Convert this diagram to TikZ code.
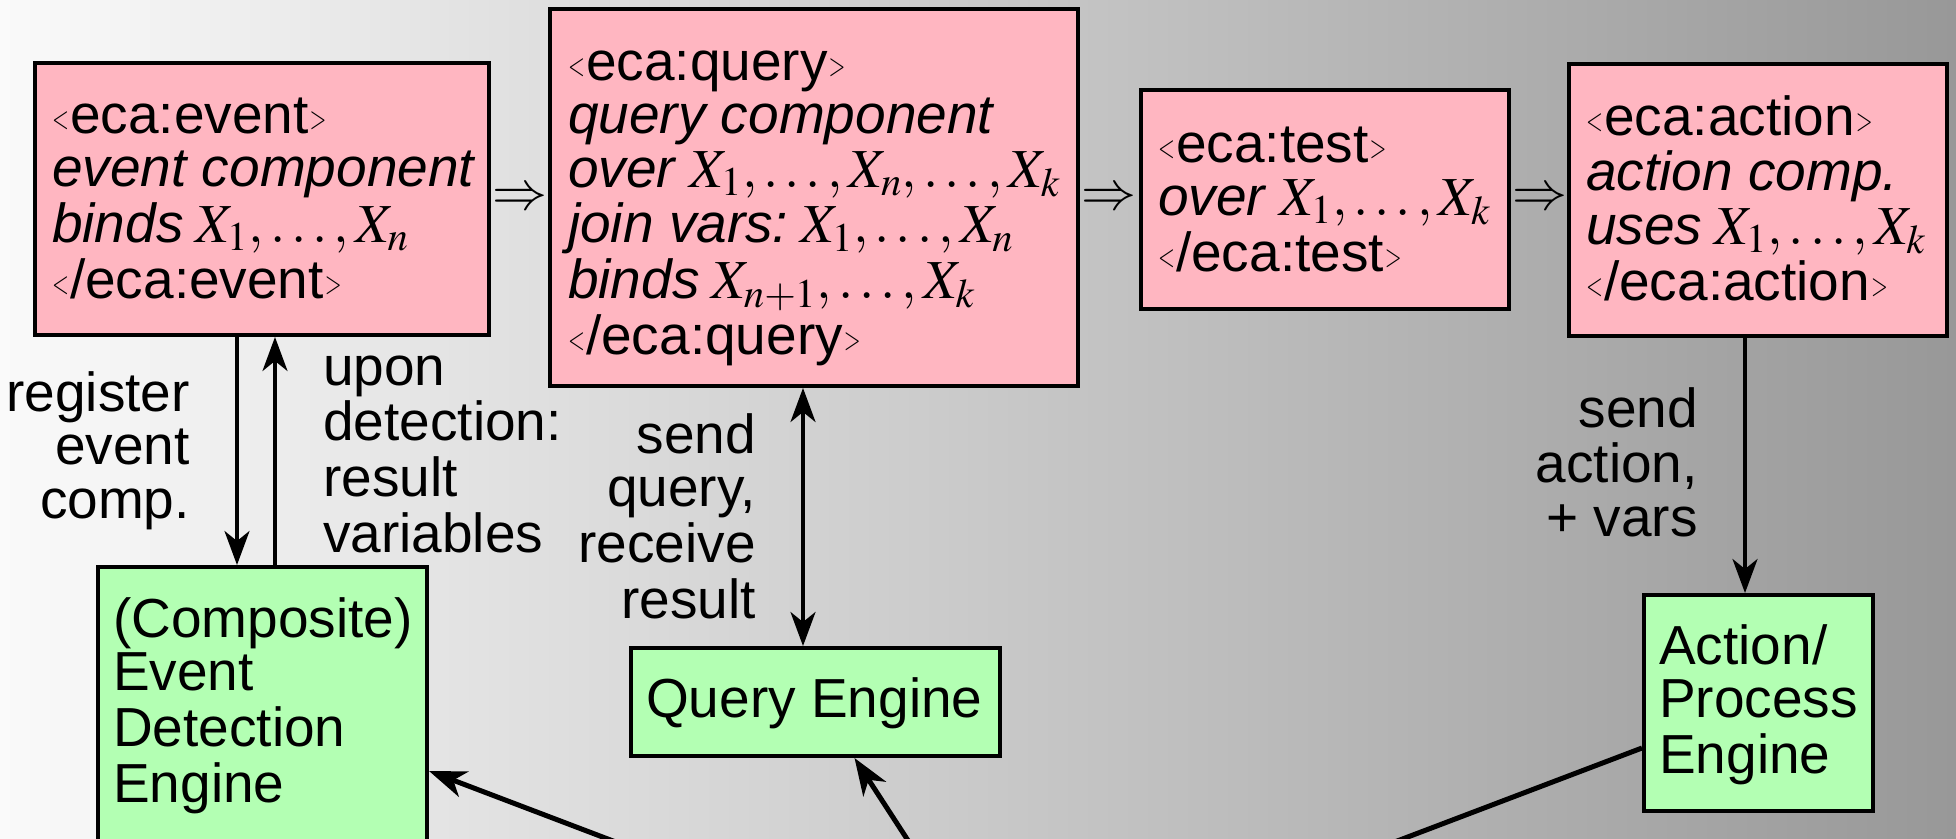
\documentclass[tikz,border=0pt]{standalone}
\usepackage{mathptmx}
\usepackage[no-math]{fontspec}
\usepackage{graphicx}
\setmainfont{Liberation Sans}
\usetikzlibrary{arrows.meta}
\definecolor{boxpink}{RGB}{255,182,193}
\definecolor{boxgreen}{RGB}{179,255,179}
\definecolor{bgleft}{RGB}{250,250,250}
\definecolor{bgright}{RGB}{152,152,152}
\newcommand\lftlines[1]{\begin{tabular}[t]{@{}l@{}}#1\end{tabular}}
\newcommand\rgtlines[1]{\begin{tabular}[t]{@{}r@{}}#1\end{tabular}}
\newcommand\ltg{\raisebox{5pt}{\scalebox{0.7}[1]{\fontsize{31}{31}\selectfont$<$}}\kern1pt}
\newcommand\gtg{\kern1pt\raisebox{5pt}{\scalebox{0.7}[1]{\fontsize{31}{31}\selectfont$>$}}}
\newcommand\vsp{\hspace{12pt}}
\begin{document}
\begin{tikzpicture}[x=1pt,y=-1pt,
  txt/.style={font=\fontsize{55}{53.5}\selectfont, inner sep=0pt},
  pbox/.style={draw, line width=4pt, fill=boxpink, inner sep=0pt},
  gbox/.style={draw, line width=4pt, fill=boxgreen, inner sep=0pt},
  arr/.style={line width=3.5pt, -{Stealth[length=34pt,width=25pt,inset=10pt]}},
  darr/.style={line width=3.5pt, {Stealth[length=34pt,width=25pt,inset=10pt]}-{Stealth[length=34pt,width=25pt,inset=10pt]}},
  barr/.style={line width=5pt, -{Stealth[length=37pt,width=27pt,inset=11pt]}},
  bline/.style={line width=5pt}]
\useasboundingbox (0,0) rectangle (1956,838);
\clip (0,0) rectangle (1956,838);
\shade[left color=bgleft,right color=bgright] (0,0) rectangle (1956,838);

% rule component boxes
\node[pbox, minimum width=454pt, minimum height=272pt] (ev) at (262,199) {};
\node[pbox, minimum width=528pt, minimum height=377pt] (qu) at (814,197.5) {};
\node[pbox, minimum width=368pt, minimum height=219pt] (te) at (1325,199.5) {};
\node[pbox, minimum width=378pt, minimum height=272pt] (ac) at (1758,200) {};

% engines
\node[gbox, minimum width=329pt, minimum height=300pt] (ede) at (262.5,717) {};
\node[gbox, minimum width=369pt, minimum height=108pt] (qe) at (815.5,702) {};
\node[gbox, minimum width=229pt, minimum height=216pt] (ape) at (1758.5,703) {};

% box texts
\node[txt, anchor=base west] (evt) at (52,133) {\lftlines{\ltg eca:event\gtg\\ \textit{event component}\\ \textit{binds}\vsp$X_1,\ldots,X_n$\\ \ltg/eca:event\gtg}};
\node[txt, anchor=base west] (qut) at (568,80) {\lftlines{\ltg eca:query\gtg\\ \textit{query component}\\ \textit{over}\vsp$X_1,\ldots,X_n,\ldots,X_k$\\ \textit{join vars:}\vsp$X_1,\ldots,X_n$\\ \textit{binds}\vsp$X_{n+1},\ldots,X_k$\\ \ltg/eca:query\gtg}};
\node[txt, anchor=base west] (tet) at (1158,162) {\lftlines{\ltg eca:test\gtg\\ \textit{over}\vsp$X_1,\ldots,X_k$\\ \ltg/eca:test\gtg}};
\node[txt, anchor=base west] (act) at (1586,135) {\lftlines{\ltg eca:action\gtg\\ \textit{action comp.}\\ \textit{uses}\vsp$X_1,\ldots,X_k$\\ \ltg/eca:action\gtg}};
\node[txt, anchor=base west] (edet) at (113,637) {\lftlines{(Composite)\\ Event\\ Detection\\ Engine}};
\node[txt, anchor=base west] (qet) at (646,717) {Query Engine};
\node[txt, anchor=base west] (apet) at (1659,664) {\lftlines{Action/\\ Process\\ Engine}};

% implication signs
\node[txt] (r1) at (520,199) {$\Rightarrow$};
\node[txt] (r2) at (1109,199) {$\Rightarrow$};
\node[txt] (r3) at (1540,199) {$\Rightarrow$};

% vertical connectors
\coordinate (xr) at (237,0);
\coordinate (xu) at (275,0);
\coordinate (xq) at (803,0);
\coordinate (xa) at (1745,0);
\draw[arr] (ev.south -| xr) -- (ede.north -| xr);
\draw[arr] (ede.north -| xu) -- (ev.south -| xu);
\draw[darr] (qu.south -| xq) -- (qe.north -| xq);
\draw[arr] (ac.south -| xa) -- (ape.north -| xa);

% connector labels
\node[txt, anchor=base east] (lreg) at (190,411) {\rgtlines{register\\ event\\ comp.}};
\node[txt, anchor=base west] (lupon) at (323,385) {\lftlines{upon\\ detection:\\ result\\ variables}};
\node[txt, anchor=base east] (lsq) at (756,453) {\rgtlines{send\\ query,\\ receive\\ result}};
\node[txt, anchor=base east] (lsa) at (1698,427) {\rgtlines{send\\ action,\\ + vars}};

% lines from below
\coordinate (hub) at (1005,990);
\draw[barr] (hub) -- ([yshift=-206pt]ede.north east);
\draw[barr] (hub) -- ([xshift=39pt]qe.south);
\draw[bline] (hub) -- ([yshift=-45pt]ape.west);
\end{tikzpicture}
\end{document}
